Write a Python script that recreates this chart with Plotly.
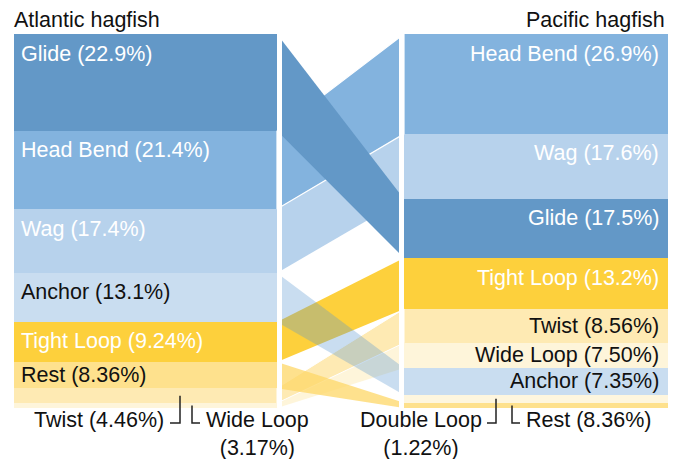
import plotly.graph_objects as go

# ---------------- data ----------------
left_categories = ["Glide", "Head Bend", "Wag", "Anchor", "Tight Loop", "Rest", "Twist", "Wide Loop"]
left_share = [25.9, 20.9, 17.1, 13.1, 10.7, 7.0, 4.0, 1.3]          # drawn band heights (%)
left_pct_text = ["22.9%", "21.4%", "17.4%", "13.1%", "9.24%", "8.36%", "4.46%", "3.17%"]

right_categories = ["Head Bend", "Wag", "Glide", "Tight Loop", "Twist", "Wide Loop", "Anchor", "Double Loop", "Rest"]
right_share = [26.7, 17.4, 15.8, 13.6, 9.1, 6.7, 7.2, 2.1, 1.4]
right_pct_text = ["26.9%", "17.6%", "17.5%", "13.2%", "8.56%", "7.50%", "7.35%", "1.22%", "8.36%"]

titles = ["Atlantic hagfish", "Pacific hagfish"]

# ---------------- styles ----------------
visible_color = {
    "Glide": (99, 152, 199),
    "Head Bend": (131, 179, 222),
    "Wag": (183, 210, 236),
    "Anchor": (201, 221, 240),
    "Tight Loop": (253, 208, 60),
    "Rest": (254, 225, 141),
    "Twist": (254, 234, 179),
    "Wide Loop": (254, 245, 218),
    "Double Loop": (254, 246, 222),
}
white_text = {"Glide", "Head Bend", "Wag", "Tight Loop"}
ribbon_alpha = {"Glide": 1.0, "Head Bend": 1.0, "Wag": 1.0, "Anchor": 0.33,
                "Tight Loop": 1.0, "Rest": 0.75, "Twist": 0.75, "Wide Loop": 0.75}
ribbon_outline = {"Head Bend": 1.2, "Twist": 1.0}
ribbon_order = ["Wide Loop", "Twist", "Rest", "Tight Loop", "Anchor", "Wag", "Head Bend", "Glide"]
callouts_left = ["Twist", "Wide Loop"]
callouts_right = ["Double Loop", "Rest"]

W, H = 679, 459          # browser window
OFF = 8                  # default page body margin
FW, FH = W - OFF, H - OFF
TOP_PX, PX_PER_UNIT = 34, 3.74
LX0, LX1 = 14, 277       # left bar (page pixels)
RX0, RX1 = 404, 668      # right bar
GAP = 5
FONT = "Liberation Sans, Arial, sans-serif"
FS = 21.5


def hexc(c):
    return "#%02x%02x%02x" % c


def rgba_for(c, a):
    raw = [max(0, min(255, round(255 - (255 - v) / a))) for v in c]
    return "rgba(%d,%d,%d,%.2f)" % (raw[0], raw[1], raw[2], a)


def px_to_y(p):
    return (p - TOP_PX) / PX_PER_UNIT


def px_to_paper(p):
    return 1 - (p - OFF) / FH


def spans(cats, shares):
    out, acc = {}, 0.0
    for c, s in zip(cats, shares):
        out[c] = (acc, acc + s)
        acc += s
    return out


Ls = spans(left_categories, left_share)
Rs = spans(right_categories, right_share)

fig = go.Figure()

# ribbons
for cat in ribbon_order:
    l0, l1 = Ls[cat]
    r0, r1 = Rs[cat]
    lw = ribbon_outline.get(cat, 0)
    fig.add_trace(go.Scatter(
        x=[LX1, RX0, RX0, LX1, LX1], y=[l0, r0, r1, l1, l0],
        mode="lines", fill="toself", line=dict(width=lw, color="white"),
        fillcolor=rgba_for(visible_color[cat], ribbon_alpha[cat]),
        hoverinfo="skip", showlegend=False))

# bars
for cats, shares, x0, x1 in [(left_categories, left_share, LX0, LX1),
                             (right_categories, right_share, RX0, RX1)]:
    sp = spans(cats, shares)
    fig.add_trace(go.Bar(
        x=[(x0 + x1) / 2] * len(cats), y=shares, base=[sp[c][0] for c in cats],
        width=[x1 - x0] * len(cats),
        marker=dict(color=[hexc(visible_color[c]) for c in cats], line=dict(width=0)),
        hoverinfo="skip", showlegend=False))

shapes = []
# white separators between bars and ribbons
for xa, xb in [(LX1, LX1 + GAP), (RX0 - GAP, RX0)]:
    shapes.append(dict(type="rect", xref="x", yref="y", x0=xa, x1=xb, y0=-1, y1=101,
                       fillcolor="white", line=dict(width=0), layer="above"))

annotations = []
lab_offset = 19.5 / PX_PER_UNIT


def add_labels(cats, shares, pct, xpos, anchor, skip):
    sp = spans(cats, shares)
    for c, s, p in zip(cats, shares, pct):
        if c in skip:
            continue
        y = sp[c][0] + min(lab_offset, s / 2)
        annotations.append(dict(
            x=xpos, y=y, xref="x", yref="y", text=f"{c} ({p})", showarrow=False,
            xanchor=anchor, yanchor="middle",
            font=dict(family=FONT, size=FS, color="white" if c in white_text else "#111")))


add_labels(left_categories, left_share, left_pct_text, 19, "left", callouts_left)
add_labels(right_categories, right_share, right_pct_text, 661, "right", callouts_right)

# titles
annotations.append(dict(x=12, y=px_to_paper(19.5), xref="x", yref="paper", text=titles[0],
                        showarrow=False, xanchor="left", yanchor="middle",
                        font=dict(family=FONT, size=FS, color="#111")))
annotations.append(dict(x=667, y=px_to_paper(19.5), xref="x", yref="paper", text=titles[1],
                        showarrow=False, xanchor="right", yanchor="middle",
                        font=dict(family=FONT, size=FS, color="#111")))

# callouts at the bottom
lp = dict(zip(left_categories, left_pct_text))
rp = dict(zip(right_categories, right_pct_text))
y_hook = px_to_y(423)
callout_specs = [
    # (text, text x, text center px, bracket x, hook dx, mid y)
    (f"Twist ({lp['Twist']})", 99, 420, 180, -10, sum(Ls["Twist"]) / 2),
    (f"Wide Loop<br>({lp['Wide Loop']})", 257, 433.5, 192, 8, sum(Ls["Wide Loop"]) / 2),
    (f"Double Loop<br>({rp['Double Loop']})", 421, 433.5, 496, -9, sum(Rs["Double Loop"]) / 2),
    (f"Rest ({rp['Rest']})", 588.5, 420, 512, 8, sum(Rs["Rest"]) / 2),
]
for text, tx, ty, bx, dx, ymid in callout_specs:
    annotations.append(dict(x=tx, y=px_to_paper(ty), xref="x", yref="paper", text=text,
                            showarrow=False, xanchor="center", yanchor="middle", align="center",
                            font=dict(family=FONT, size=FS, color="#111")))
    shapes.append(dict(type="path", xref="x", yref="y",
                       path=f"M {bx},{ymid} L {bx},{y_hook} L {bx + dx},{y_hook}",
                       line=dict(color="#222", width=1.5), layer="above"))

fig.update_layout(
    width=FW, height=FH, margin=dict(l=0, r=0, t=0, b=0),
    paper_bgcolor="white", plot_bgcolor="white",
    barmode="overlay", bargap=0,
    xaxis=dict(range=[OFF, W], visible=False, fixedrange=True),
    yaxis=dict(range=[px_to_y(H), px_to_y(OFF)], visible=False, fixedrange=True),
    shapes=shapes, annotations=annotations, showlegend=False,
)

fig.write_html("out.html")
